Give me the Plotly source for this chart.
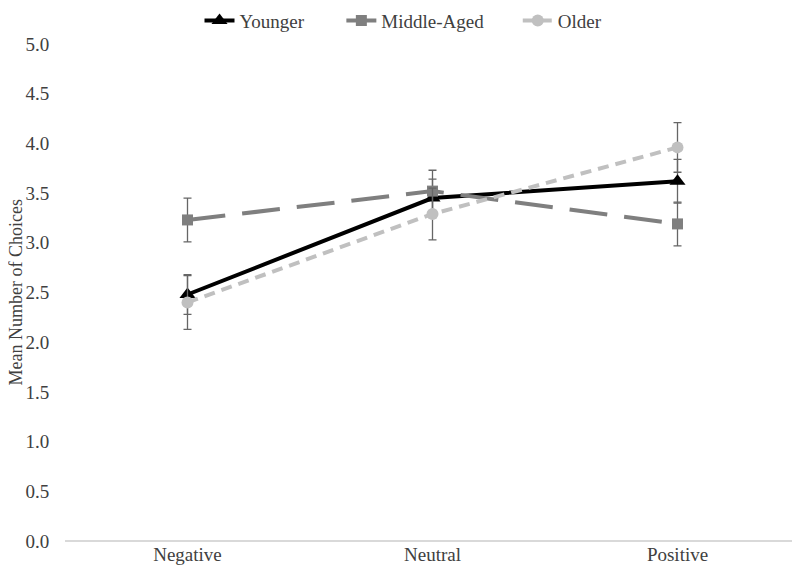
import plotly.graph_objects as go

categories = ["Negative", "Neutral", "Positive"]
younger = [2.48, 3.45, 3.62]
younger_err = [0.20, 0.19, 0.22]
middle = [3.23, 3.52, 3.19]
middle_err = [0.22, 0.21, 0.22]
older = [2.40, 3.29, 3.96]
older_err = [0.27, 0.26, 0.25]
y_ticks = [0, 0.5, 1.0, 1.5, 2.0, 2.5, 3.0, 3.5, 4.0, 4.5, 5.0]

FONT = "Times New Roman"
TXT = "#404040"
ERR = dict(type="data", thickness=1.3, width=4, color="#666666")

fig = go.Figure()
fig.add_trace(go.Scatter(
    x=categories, y=younger, name="Younger", mode="lines+markers", legend="legend",
    line=dict(color="#000000", width=4),
    marker=dict(symbol="triangle-up", size=14, color="#000000"),
    error_y=dict(array=younger_err, **ERR)))
fig.add_trace(go.Scatter(
    x=categories, y=middle, name="Middle-Aged", mode="lines+markers", legend="legend2",
    line=dict(color="#7f7f7f", width=4, dash="38px,17px"),
    marker=dict(symbol="square", size=11, color="#7f7f7f"),
    error_y=dict(array=middle_err, **ERR)))
fig.add_trace(go.Scatter(
    x=categories, y=older, name="Older", mode="lines+markers", legend="legend3",
    line=dict(color="#c0c0c0", width=4, dash="11px,7px"),
    marker=dict(symbol="circle", size=12, color="#c0c0c0"),
    error_y=dict(array=older_err, **ERR)))

leg = dict(orientation="h", xanchor="left", y=1.047, yanchor="middle",
           font=dict(family=FONT, size=19, color=TXT), bgcolor="rgba(0,0,0,0)")

fig.update_layout(
    width=800, height=575,
    margin=dict(l=57, r=8, t=36, b=42, autoexpand=False),
    paper_bgcolor="white", plot_bgcolor="white",
    font=dict(family=FONT, size=19, color=TXT),
    showlegend=True,
    legend=dict(x=0.183, **leg),
    legend2=dict(x=0.376, **leg),
    legend3=dict(x=0.616, **leg),
    xaxis=dict(range=[-0.5, 2.5], showgrid=False, showline=False, zeroline=False, ticks="",
               tickfont=dict(family=FONT, size=19, color=TXT)),
    yaxis=dict(range=[0, 5], tickvals=y_ticks, tickformat=".1f",
               showgrid=False, showline=False, zeroline=True,
               zerolinecolor="#d9d9d9", zerolinewidth=1.5,
               ticks="outside", ticklen=11, tickcolor="rgba(0,0,0,0)",
               tickfont=dict(family=FONT, size=19, color=TXT)),
    annotations=[dict(text="Mean Number of Choices", xref="paper", yref="paper",
                      x=-0.0667, y=0.5, xanchor="center", yanchor="middle",
                      textangle=-90, showarrow=False,
                      font=dict(family=FONT, size=18, color=TXT))],
)

fig.write_html("out.html")
